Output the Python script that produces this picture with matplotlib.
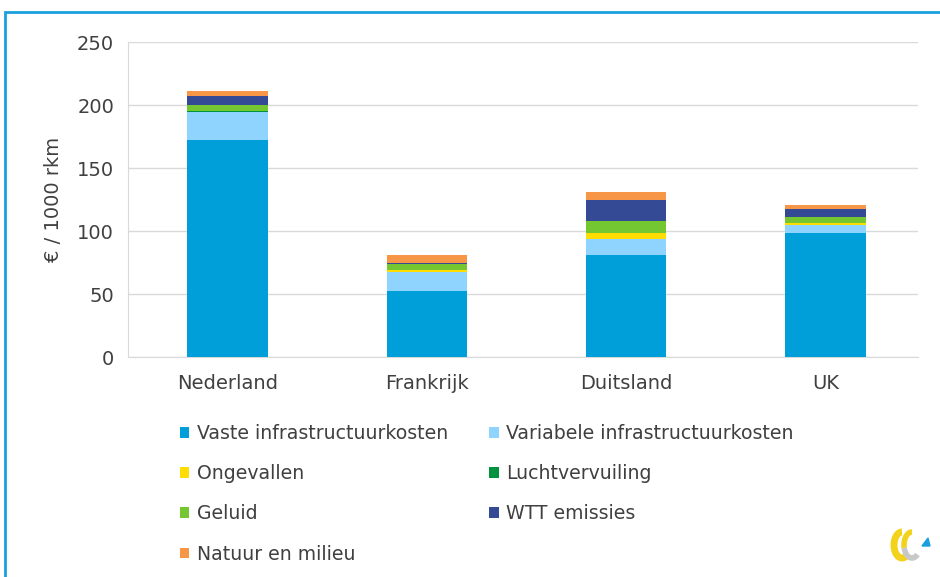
import matplotlib.pyplot as plt
from matplotlib.patches import Rectangle, Arc, Polygon
import numpy as np

landen = ['Nederland', 'Frankrijk', 'Duitsland', 'UK']

# kosten per component (€ / 1000 rkm), van onder naar boven gestapeld
vaste = [172.5, 52.4, 81.0, 98.4]
variabele = [22.0, 14.8, 12.7, 6.4]
ongevallen = [0.3, 1.6, 4.7, 1.5]
luchtvervuiling = [0.3, 0.3, 0.3, 0.3]
geluid = [5.0, 4.5, 9.5, 4.8]
wtt = [7.3, 1.2, 16.2, 6.4]
natuur = [3.6, 6.4, 6.3, 3.1]

componenten = [
    ('Vaste infrastructuurkosten', vaste, '#009fda'),
    ('Variabele infrastructuurkosten', variabele, '#8fd3ff'),
    ('Ongevallen', ongevallen, '#ffdd00'),
    ('Luchtvervuiling', luchtvervuiling, '#00923f'),
    ('Geluid', geluid, '#75c732'),
    ('WTT emissies', wtt, '#344a94'),
    ('Natuur en milieu', natuur, '#f79646'),
]

tekst = '#404040'

fig = plt.figure(figsize=(9.4, 5.77), dpi=100)
ax = fig.add_axes([128 / 940, 0.381, 790 / 940, 0.546])

x = np.arange(len(landen))
bottom = np.zeros(len(landen))
handles = {}
for naam, waarden, kleur in componenten:
    b = ax.bar(x, waarden, 0.405, bottom=bottom, color=kleur, label=naam, zorder=3)
    handles[naam] = b
    bottom += np.array(waarden)

ax.set_ylim(0, 250)
ax.set_xlim(-0.5, 3.465)
ax.set_yticks(range(0, 251, 50))
ax.set_xticks(x)
ax.set_xticklabels(landen)
ax.tick_params(axis='both', length=0, labelsize=14, colors=tekst, pad=10)
ax.tick_params(axis='x', pad=12)
ax.yaxis.grid(True, color='#d9d9d9', linewidth=1, zorder=0)
for s in ['top', 'right']:
    ax.spines[s].set_visible(False)
ax.spines['bottom'].set_color('#d9d9d9')
ax.spines['left'].set_color('#d9d9d9')
ax.set_ylabel('€ / 1000 rkm', fontsize=14, color=tekst, labelpad=10)

# legenda in twee kolommen (kolomsgewijs gevuld)
volgorde = ['Vaste infrastructuurkosten', 'Ongevallen', 'Geluid', 'Natuur en milieu',
            'Variabele infrastructuurkosten', 'Luchtvervuiling', 'WTT emissies']
leg = fig.legend([handles[n] for n in volgorde], volgorde, ncol=2,
                 loc='upper left', bbox_to_anchor=(0.183, 0.278),
                 frameon=False, fontsize=13.6, handlelength=0.5, handleheight=0.5,
                 handletextpad=0.4, labelspacing=1.12, columnspacing=2.2,
                 borderaxespad=0)
for t in leg.get_texts():
    t.set_color(tekst)

# kader rondom
fig.patches.append(Rectangle((5 / 940, -0.1), 1.2, (577 - 12) / 577 + 0.1,
                             transform=fig.transFigure, fill=False,
                             edgecolor='#1aa0dc', linewidth=2))

# klein logo rechtsonder
lax = fig.add_axes([888 / 940, 1 - 562 / 577, 46 / 940, 36 / 577])
lax.set_xlim(0, 46)
lax.set_ylim(0, 36)
lax.axis('off')
lax.add_patch(Arc((14, 17), 16, 26, theta1=90, theta2=290, color='#f2d21b', linewidth=5))
lax.add_patch(Arc((24, 17), 16, 26, theta1=90, theta2=200, color='#f2d21b', linewidth=4))
lax.add_patch(Arc((24, 17), 16, 26, theta1=200, theta2=300, color='#c8c8c8', linewidth=4))
lax.add_patch(Polygon([[34, 16], [42, 16], [40, 24]], closed=True, color='#1a9fe0'))

fig.savefig('out.png', dpi=100)
